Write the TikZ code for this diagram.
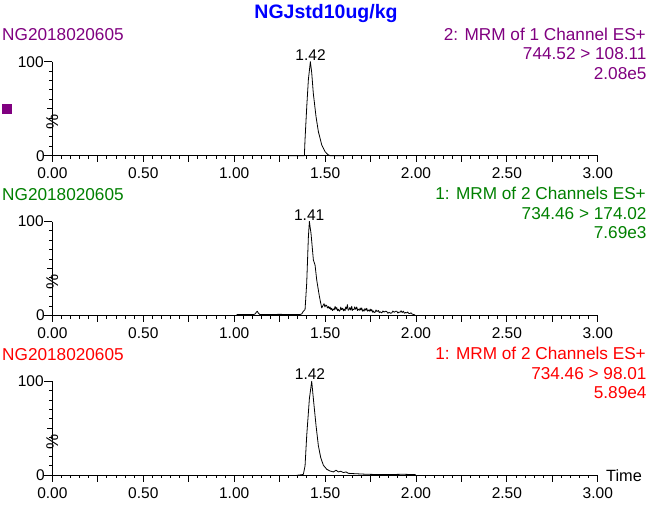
\documentclass[tikz,border=0pt]{standalone}
\usepackage{fontspec}
\setmainfont{Liberation Sans}
\definecolor{mmpurple}{RGB}{128,0,128}
\definecolor{mmgreen}{RGB}{0,128,0}
\definecolor{mmred}{RGB}{255,0,0}
\definecolor{mmblue}{RGB}{0,0,255}
\tikzset{
  hdr/.style={inner sep=0pt, font=\fontsize{17.2}{17.2}\selectfont},
  lbl/.style={inner sep=0pt, font=\fontsize{15.5}{15.5}\selectfont},
  pctlbl/.style={inner sep=0pt, font=\fontsize{17}{17}\selectfont},
  axisline/.style={line width=0.9pt},
  trace/.style={line width=0.8pt, line join=round}
}
% #1 index, #2 axis y (px from top), #3 colour, #4-#6 header lines, #7 peak label, #8 label t, #9 trace
\newcommand\mmpanel[9]{%
\begin{scope}[shift={(52.4pt,-#2pt)}, x=181.8pt, y=0.94pt]
  \foreach \i in {0,...,60} \draw[axisline] (\i*0.05,0) -- ++(0,-3pt);
  \foreach \i in {0,...,12} \draw[axisline] (\i*0.25,0) -- ++(0,-6.5pt);
  \foreach \s [count=\k] in {0.00,0.50,1.00,1.50,2.00,2.50,3.00}
    \node[lbl, anchor=base] (p#1x\k) at ({(\k-1)*0.5},0) [yshift=-23pt] {\s};
  \foreach \j in {1,...,9} \draw[axisline] (0,\j*10) -- ++(-3pt,0);
  \draw[axisline] (0,50) -- ++(-5.5pt,0);
  \draw[axisline] (0,100) -- ++(-8pt,0);
  \draw[axisline] (0,0) -- ++(-8pt,0);
  \draw[axisline] (0,100) -- (0,0) -- (3,0);
  \node[lbl, anchor=east] (p#1ya) at (0,0) [xshift=-7.5pt] {0};
  \node[lbl, anchor=east] (p#1yb) at (0,100) [xshift=-8.5pt] {100};
  \node[pctlbl, rotate=90] (p#1pct) at (0,50) [xshift=-13.5pt] {\%};
  \draw[trace] plot coordinates {#9};
  \node[lbl, anchor=base] (p#1pk) at (#8,100) [yshift=1.5pt] {#7};
  \node[hdr, text=#3, anchor=base west] (p#1id) at (-50.4pt,115.2pt) {NG2018020605};
  \node[hdr, text=#3, anchor=base east] (p#1ha) at (593.6pt,115.7pt) {#4};
  \node[hdr, text=#3, anchor=base east] (p#1hb) at (594.3pt,96.2pt) {#5};
  \node[hdr, text=#3, anchor=base east] (p#1hc) at (594.3pt,76.7pt) {#6};
\end{scope}}
\begin{document}
\begin{tikzpicture}[x=1pt,y=1pt]
\useasboundingbox (0,0) rectangle (653,-504);
\node[inner sep=0pt, anchor=base, text=mmblue, font=\fontsize{19.5}{19.5}\selectfont\bfseries] (title) at (326,-18) {NGJstd10ug/kg};
\node[fill=mmpurple, inner sep=0pt, minimum size=9.4pt] (sq) at (7,-109) {};
\mmpanel{1}{155.7}{mmpurple}{2: MRM of 1 Channel ES+}{744.52 > 108.11}{2.08e5}{1.42}{1.42}{(1.30,0) (1.386,0) (1.3895,16.8) (1.399,52) (1.408,81) (1.419,100) (1.4265,88) (1.435,66.6) (1.450,41.6) (1.463,25.6) (1.4815,11.4) (1.4997,4.3) (1.515,1.2) (1.527,0) (1.60,0)}
\mmpanel{2}{315.5}{mmgreen}{1: MRM of 2 Channels ES+}{734.46 > 174.02}{7.69e3}{1.41}{1.4125}{(1.014,1) (1.105,1) (1.114,1.5) (1.122,3.5) (1.127,4.6) (1.133,2.5) (1.141,1) (1.25,1.2) (1.362,1) (1.372,1.8) (1.3805,4.6) (1.3897,6.3) (1.3988,34.4) (1.408,83.5) (1.4135,100) (1.4227,87) (1.4355,59) (1.4447,53.7) (1.4538,37.9) (1.4685,20.4) (1.4758,13.3) (1.4814,8.1) (1.4942,12.6) (1.4990,9.2) (1.5040,11.2) (1.5089,10.5) (1.5130,8.0) (1.5180,9.5) (1.5230,7.4) (1.5272,9.1) (1.5320,6.1) (1.5360,7.8) (1.5410,5.2) (1.5456,7.0) (1.5500,6.0) (1.5550,9.6) (1.5600,6.6) (1.5639,8.4) (1.5690,5.0) (1.5730,6.6) (1.5780,4.6) (1.5823,5.6) (1.5860,8.9) (1.5900,6.4) (1.5969,7.7) (1.6010,5.0) (1.6050,6.8) (1.6100,5.2) (1.6135,9.1) (1.6180,7.0) (1.6226,11.6) (1.6270,5.6) (1.6318,6.3) (1.6360,8.6) (1.6410,5.8) (1.6465,9.8) (1.6500,5.4) (1.6530,6.6) (1.6593,6.3) (1.6630,9.2) (1.6680,6.6) (1.6740,9.1) (1.6780,5.2) (1.6810,6.8) (1.6887,5.6) (1.6930,8.0) (1.6970,5.8) (1.7015,8.1) (1.7060,4.6) (1.7100,6.0) (1.7144,4.6) (1.7190,7.4) (1.7240,5.6) (1.7290,7.7) (1.7330,4.6) (1.7380,5.8) (1.7437,4.6) (1.7480,6.8) (1.7520,4.8) (1.7565,6.3) (1.7610,3.6) (1.7650,4.8) (1.7700,3.2) (1.7749,3.5) (1.7800,5.9) (1.7850,4.2) (1.7932,5.3) (1.7980,3.0) (1.8020,4.0) (1.8116,2.8) (1.8180,4.8) (1.8250,3.6) (1.8320,4.6) (1.8391,4.2) (1.8450,2.4) (1.8520,3.4) (1.8600,2.4) (1.8666,2.8) (1.8730,4.8) (1.8800,3.4) (1.8870,4.4) (1.8942,4.6) (1.9000,2.6) (1.9060,3.6) (1.9125,3.5) (1.9180,5.0) (1.9240,3.2) (1.9308,4.6) (1.9360,2.4) (1.9420,3.2) (1.9491,2.8) (1.9540,3.8) (1.9600,2.2) (1.9675,2.1) (1.9720,3.0) (1.9770,1.8) (1.9859,1) (1.995,0.8)}
\mmpanel{3}{475.3}{mmred}{1: MRM of 2 Channels ES+}{734.46 > 98.01}{5.89e4}{1.42}{1.417}{(1.3438,0) (1.3700,0.6) (1.3805,1.1) (1.3897,10) (1.3988,42) (1.4135,81.4) (1.4263,100) (1.4355,81.4) (1.4502,52.8) (1.4630,31.4) (1.4758,18.9) (1.4905,10.7) (1.5089,6.4) (1.5272,4.6) (1.5456,3.6) (1.5603,5.4) (1.5731,3.6) (1.5859,4.3) (1.6006,2.9) (1.6153,3.6) (1.6282,2.1) (1.6557,1.8) (1.7290,1.1) (1.8207,0.7) (1.9308,1.1) (1.9950,0.7) (2.0,0)}
\node[inner sep=0pt, anchor=base west, font=\fontsize{16.3}{16.3}\selectfont] (time) at (606,-481.7) {Time};
\end{tikzpicture}
\end{document}
